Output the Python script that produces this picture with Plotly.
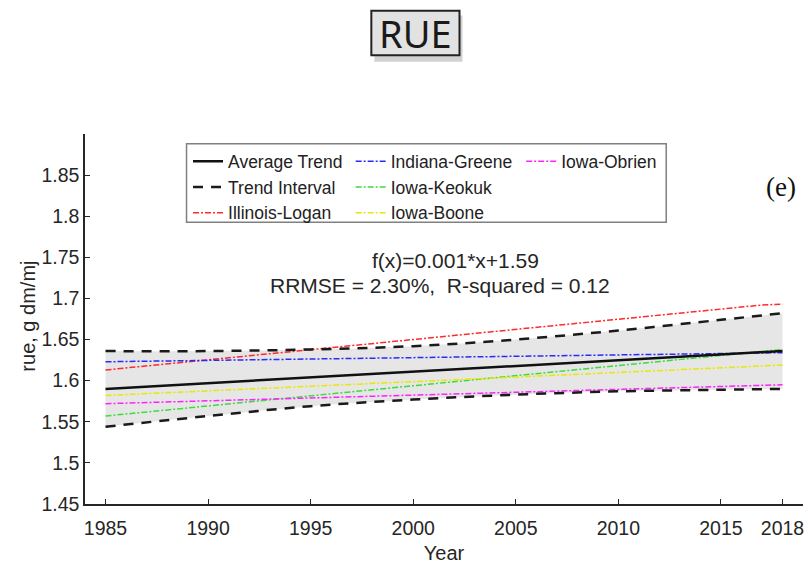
import plotly.graph_objects as go

# ---------------- data ----------------
trend_years = [1985, 2018]
average_trend = [1.590, 1.636]

band_years = [1985, 1990, 1995, 2000, 2005, 2010, 2015, 2018]
band_upper = [1.636, 1.636, 1.638, 1.642, 1.650, 1.661, 1.674, 1.682]
band_lower = [1.544, 1.557, 1.569, 1.577, 1.583, 1.587, 1.589, 1.590]

logan_years = [1985, 2017, 2018]
illinois_logan = [1.613, 1.692, 1.693]

site_years = [1985, 2018]
indiana_greene = [1.623, 1.634]
iowa_keokuk = [1.557, 1.638]
iowa_boone = [1.582, 1.619]
iowa_obrien = [1.572, 1.595]

x_ticks = [1985, 1990, 1995, 2000, 2005, 2010, 2015, 2018]
y_ticks = [1.45, 1.5, 1.55, 1.6, 1.65, 1.7, 1.75, 1.8, 1.85]
y_tick_text = ["1.45", "1.5", "1.55", "1.6", "1.65", "1.7", "1.75", "1.8", "1.85"]

# ---------------- figure ----------------
FONT = "Liberation Sans, Arial, sans-serif"
DASHDOT = "6px,2px,2px,2px"

fig = go.Figure()

# grey interval fill
fig.add_trace(go.Scatter(x=band_years, y=band_upper, mode="lines",
                         line=dict(width=0, shape="spline"), showlegend=False,
                         hoverinfo="skip"))
fig.add_trace(go.Scatter(x=band_years, y=band_lower, mode="lines",
                         line=dict(width=0, shape="spline"), fill="tonexty",
                         fillcolor="#e6e6e6", showlegend=False, hoverinfo="skip"))

sites = [
    ("Illinois-Logan", logan_years, illinois_logan, "#ff2a2a", "legend"),
    ("Indiana-Greene", site_years, indiana_greene, "#2a2aff", "legend2"),
    ("Iowa-Keokuk", site_years, iowa_keokuk, "#3ddc3d", "legend2"),
    ("Iowa-Boone", site_years, iowa_boone, "#e8e800", "legend2"),
    ("Iowa-Obrien", site_years, iowa_obrien, "#ff22ff", "legend3"),
]
ranks = {"Illinois-Logan": 3, "Indiana-Greene": 1, "Iowa-Keokuk": 2,
         "Iowa-Boone": 3, "Iowa-Obrien": 1}
for name, xs, ys, col, lg in sites:
    fig.add_trace(go.Scatter(x=xs, y=ys, mode="lines", name=name,
                             line=dict(color=col, width=1.5, dash=DASHDOT),
                             legend=lg, legendrank=ranks[name]))

# trend interval (dashed) and average trend
fig.add_trace(go.Scatter(x=band_years, y=band_upper, mode="lines",
                         name="Trend Interval", legend="legend", legendrank=2,
                         line=dict(color="#1a1a1a", width=2.5, dash="10px,8px",
                                   shape="spline")))
fig.add_trace(go.Scatter(x=band_years, y=band_lower, mode="lines",
                         showlegend=False,
                         line=dict(color="#1a1a1a", width=2.5, dash="10px,8px",
                                   shape="spline")))
fig.add_trace(go.Scatter(x=trend_years, y=average_trend, mode="lines",
                         name="Average Trend", legend="legend", legendrank=1,
                         line=dict(color="#111111", width=2.5)))

leg_common = dict(bgcolor="rgba(0,0,0,0)", borderwidth=0, yanchor="top",
                  xanchor="left", font=dict(family=FONT, size=17.5, color="#222"),
                  tracegroupgap=0, itemwidth=30, traceorder="normal")
fig.update_layout(
    legend=dict(x=0.1435, y=0.975, **leg_common),
    legend2=dict(x=0.3700, y=0.975, **leg_common),
    legend3=dict(x=0.6075, y=0.975, **leg_common),
)

fig.update_layout(
    width=808, height=565,
    margin=dict(l=85, r=4, t=134, b=58),
    paper_bgcolor="white", plot_bgcolor="white",
    font=dict(family=FONT, size=19.5, color="#262626"),
    xaxis=dict(range=[1984, 2019], tickvals=x_ticks, ticks="inside", ticklen=5,
               tickcolor="#262626", showline=True, linecolor="#262626",
               linewidth=1.5, showgrid=False, zeroline=False,
               ticklabelstandoff=6,
               title=dict(text="Year", font=dict(size=20), standoff=8),
               tickfont=dict(size=19.5)),
    yaxis=dict(range=[1.45, 1.9], tickvals=y_ticks, ticktext=y_tick_text,
               ticks="inside", ticklen=5, tickcolor="#262626", showline=True,
               linecolor="#262626", linewidth=1.5, showgrid=False,
               zeroline=False,
               tickfont=dict(size=19.5)),
    showlegend=True,
)

# y-axis title placed as rotated text
fig.add_annotation(text="rue, g dm/mj", xref="paper", yref="paper",
                   x=(27 - 85) / 719, y=1 - (318 - 134.2) / 372.5,
                   textangle=-90, showarrow=False, xanchor="center",
                   yanchor="middle",
                   font=dict(family=FONT, size=20, color="#262626"))

# legend outer box
fig.add_shape(type="rect", xref="paper", yref="paper",
              x0=0.1414, x1=0.8095, y0=0.7616, y1=0.9737,
              line=dict(color="#808080", width=1.5), fillcolor="rgba(0,0,0,0)")

# Title box with shadow
fig.add_shape(type="rect", xref="paper", yref="paper",
              x0=0.4030, x1=0.5258, y0=1.195, y1=1.320,
              line=dict(width=0), fillcolor="rgba(0,0,0,0.18)")
fig.add_shape(type="rect", xref="paper", yref="paper",
              x0=0.3988, x1=0.5216, y0=1.2126, y1=1.3334,
              line=dict(color="#222222", width=2), fillcolor="#e2e2e2")
fig.add_annotation(text="RUE", xref="paper", yref="paper", x=0.4602, y=1.2717,
                   showarrow=False, xanchor="center", yanchor="middle",
                   font=dict(family="Noto Sans, sans-serif", size=38, color="#1a1a1a"))

# equations
fig.add_annotation(text="f(x)=0.001*x+1.59", xref="paper", yref="paper",
                   x=(456 - 85) / 719, y=1 - (261.7 - 134.2) / 372.5,
                   showarrow=False, xanchor="center", yanchor="middle",
                   font=dict(family=FONT, size=21, color="#262626"))
fig.add_annotation(text="RRMSE = 2.30%,  R-squared = 0.12", xref="paper", yref="paper",
                   x=(440 - 85) / 719, y=1 - (287 - 134.2) / 372.5,
                   showarrow=False, xanchor="center", yanchor="middle",
                   font=dict(family=FONT, size=21, color="#262626"))
fig.add_annotation(text="(e)", xref="paper", yref="paper",
                   x=(782 - 85) / 719, y=1 - (188 - 134.2) / 372.5,
                   showarrow=False, xanchor="center", yanchor="middle",
                   font=dict(family="Liberation Serif, Times New Roman, serif",
                             size=27, color="#111111"))

fig.write_html("out.html")
